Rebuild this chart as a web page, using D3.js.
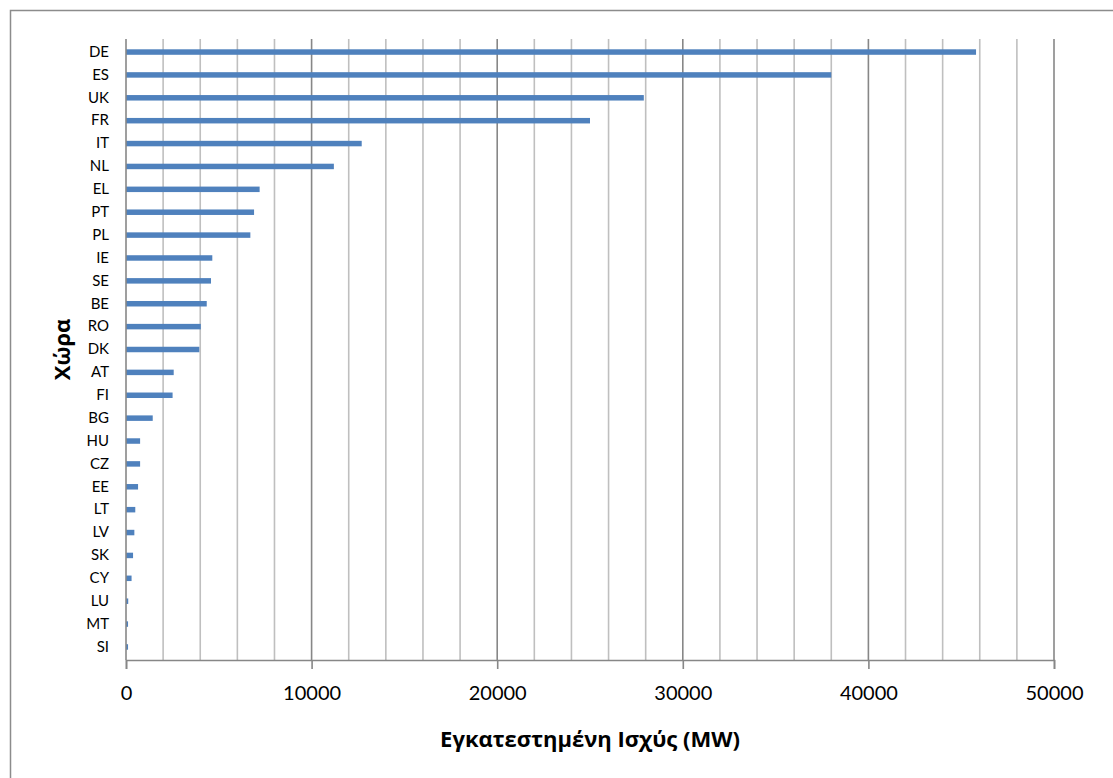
<!DOCTYPE html>
<html><head><meta charset="utf-8">
<script src="https://cdn.jsdelivr.net/npm/d3@7"></script>
<style>body{margin:0;background:#fff}svg{display:block}</style>
</head><body>
<svg id="c" width="1113" height="778"></svg>
<script>
const countries = ["DE","ES","UK","FR","IT","NL","EL","PT","PL","IE","SE","BE","RO","DK","AT","FI","BG","HU","CZ","EE","LT","LV","SK","CY","LU","MT","SI"];
const capacityMW = [45800,38000,27900,25000,12700,11200,7200,6900,6700,4650,4580,4350,4030,3950,2570,2510,1440,760,760,650,500,450,380,300,120,110,110];
const xTicks = [0,10000,20000,30000,40000,50000];
const xTitle = "Εγκατεστημένη Ισχύς (MW)";
const yTitle = "Χώρα";

const svg = d3.select("#c");
const font = "Lato, 'Open Sans', sans-serif";
const tfont = "'Open Sans', Lato, sans-serif";
const L = 126, R = 1054, T = 39, B = 660;

svg.append("path").attr("d", `M10.5,${778}V10.5H1113`).attr("fill","none").attr("stroke","#8c8c8c").attr("stroke-width",1.5);

const x = d3.scaleLinear().domain([0,50000]).range([L,R]);
const y = d3.scaleBand().domain(countries).range([T,B]).paddingInner(0.76).paddingOuter(0.45);

const minor = d3.range(2000, 50001, 2000).filter(v => v % 10000 !== 0);
svg.append("g").selectAll("line").data(minor).join("line")
  .attr("x1", d=>x(d)).attr("x2", d=>x(d)).attr("y1", T).attr("y2", B)
  .attr("stroke","#bfbfbf").attr("stroke-width",1.6);
svg.append("g").selectAll("line").data(xTicks.slice(1)).join("line")
  .attr("x1", d=>x(d)).attr("x2", d=>x(d)).attr("y1", T).attr("y2", B)
  .attr("stroke","#878787").attr("stroke-width",1.6);

svg.append("g").selectAll("rect").data(countries).join("rect")
  .attr("x", x(0)).attr("y", d=>y(d))
  .attr("width", (d,i)=>x(capacityMW[i])-x(0))
  .attr("height", y.bandwidth())
  .attr("fill","#4f81bd");

const xa = svg.append("g").attr("transform",`translate(0,${B})`)
  .call(d3.axisBottom(x).tickValues(xTicks).tickSize(9).tickPadding(17).tickFormat(d3.format("d")));
xa.select(".domain").attr("stroke","#878787").attr("stroke-width",1.6);
xa.selectAll(".tick line").attr("stroke","#878787").attr("stroke-width",1.6);
xa.selectAll("text").attr("font-family",font).attr("font-size",20).attr("fill","#000");

const ya = svg.append("g").attr("transform",`translate(${L},0)`)
  .call(d3.axisLeft(y).tickSize(0).tickPadding(17));
ya.select(".domain").attr("stroke","#878787").attr("stroke-width",1.6).attr("d",`M0,${T}V${B}`);
ya.selectAll("text").attr("font-family",font).attr("font-size",15).attr("fill","#000");

svg.append("text").attr("x",(L+R)/2).attr("y",747).attr("text-anchor","middle")
  .attr("font-family",tfont).attr("font-weight","bold").attr("font-size",22).text(xTitle);
svg.append("text").attr("transform",`translate(70,${(T+B)/2}) rotate(-90)`).attr("text-anchor","middle")
  .attr("font-family",tfont).attr("font-weight","bold").attr("font-size",22).text(yTitle);
</script>
</body></html>
